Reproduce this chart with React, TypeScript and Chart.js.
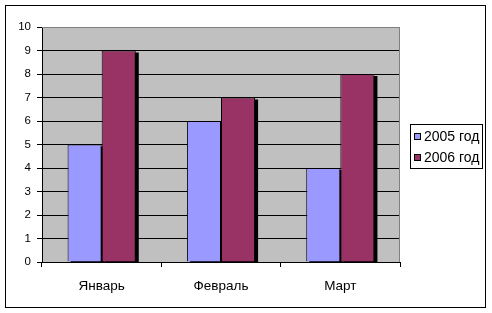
import React, { useEffect, useRef } from "react";
import { Chart, registerables } from "chart.js";

Chart.register(...registerables);

const categories = ["Январь", "Февраль", "Март"];
const seriesNames = ["2005 год", "2006 год"];
const values2005 = [5, 6, 4];
const values2006 = [9, 7, 8];
const colors = ["#9999FF", "#993366"];
const yMin = 0;
const yMax = 10;

const FONT = "'Liberation Sans', Arial, sans-serif";

const framePlugin = {
  id: "frame",
  beforeDraw(chart: any) {
    const { ctx, chartArea: a } = chart;
    ctx.save();
    ctx.fillStyle = "#fff";
    ctx.fillRect(0, 0, chart.width, chart.height);
    ctx.fillStyle = "#C0C0C0";
    ctx.fillRect(a.left, a.top, a.right - a.left, a.bottom - a.top);
    ctx.restore();
  },
  beforeDatasetsDraw(chart: any) {
    const { ctx, chartArea: a } = chart;
    ctx.save();
    ctx.beginPath();
    ctx.rect(a.left, a.top, a.right - a.left, a.bottom - a.top);
    ctx.clip();
    ctx.fillStyle = "#000";
    chart.getSortedVisibleDatasetMetas().forEach((meta: any) => {
      meta.data.forEach((el: any) => {
        const p = el.getProps(["x", "y", "base", "width"], true);
        const left = p.x - p.width / 2;
        ctx.fillRect(left + 3, p.y + 2, p.width, p.base - p.y);
      });
    });
    ctx.restore();
  },
  afterDraw(chart: any) {
    const { ctx, chartArea: a } = chart;
    ctx.save();
    // plot area right/top border (gray)
    ctx.strokeStyle = "#808080";
    ctx.lineWidth = 1;
    ctx.beginPath();
    ctx.moveTo(a.left, Math.round(a.top) + 0.5);
    ctx.lineTo(Math.round(a.right) - 0.5, Math.round(a.top) + 0.5);
    ctx.lineTo(Math.round(a.right) - 0.5, a.bottom);
    ctx.stroke();
    // outer frame
    ctx.strokeStyle = "#000";
    ctx.strokeRect(5.5, 5.5, 480, 302);
    // legend
    const lx = 410.5, ly = 124.5, lw = 72, lh = 44;
    ctx.strokeRect(lx, ly, lw, lh);
    ctx.font = `14px ${FONT}`;
    ctx.textBaseline = "middle";
    ctx.textAlign = "left";
    chart.data.datasets.forEach((ds: any, i: number) => {
      const cy = 137 + i * 21;
      ctx.fillStyle = ds.backgroundColor;
      ctx.fillRect(414.5, Math.round(cy) - 3.5, 6, 6);
      ctx.strokeStyle = "#000";
      ctx.strokeRect(414.5, Math.round(cy) - 3.5, 6, 6);
      ctx.fillStyle = "#000";
      ctx.fillText(ds.label, 424, cy);
    });
    ctx.restore();
  },
};

export default function App() {
  const ref = useRef<HTMLCanvasElement | null>(null);
  useEffect(() => {
    if (!ref.current) return;
    const chart = new Chart(ref.current, {
      type: "bar",
      data: {
        labels: categories,
        datasets: [
          {
            label: seriesNames[0],
            data: values2005,
            backgroundColor: colors[0],
            borderColor: "#000",
            borderWidth: 1,
            borderSkipped: "start",
          },
          {
            label: seriesNames[1],
            data: values2006,
            backgroundColor: colors[1],
            borderColor: "#000",
            borderWidth: 1,
            borderSkipped: "start",
          },
        ],
      },
      options: {
        animation: false,
        responsive: false,
        maintainAspectRatio: false,
        devicePixelRatio: 1,
        layout: { padding: { left: 5, top: 27, right: 92, bottom: 5 } },
        datasets: {
          bar: { categoryPercentage: 2 / 3.5, barPercentage: 1 },
        },
        plugins: {
          legend: { display: false },
          tooltip: { enabled: false },
          title: { display: false },
        },
        scales: {
          x: {
            grid: {
              display: true,
              drawOnChartArea: false,
              drawTicks: true,
              tickLength: 5,
              color: "#000",
              offset: true,
            },
            border: { display: true, color: "#000", width: 1 },
            ticks: {
              color: "#000",
              font: { family: FONT, size: 13.5 },
              padding: 11,
              maxRotation: 0,
            },
            afterFit: (s: any) => {
              s.height = 46;
            },
          },
          y: {
            min: yMin,
            max: yMax,
            grid: {
              display: true,
              drawTicks: true,
              tickLength: 5,
              color: (c: any) => (c.tick && c.tick.value === yMax ? "#808080" : "#000"),
              tickColor: "#000",
            },
            border: { display: true, color: "#000", width: 1 },
            ticks: {
              stepSize: 1,
              color: "#000",
              font: { family: FONT, size: 11.5 },
              padding: 6,
            },
            afterFit: (s: any) => {
              s.width = 37;
            },
          },
        },
      },
      plugins: [framePlugin],
    });
    return () => chart.destroy();
  }, []);
  return (
    <div style={{ position: "absolute", left: 0, top: 0, width: 492, height: 313, background: "#fff" }}>
      <canvas ref={ref} width={492} height={313} style={{ display: "block", width: 492, height: 313 }} />
    </div>
  );
}
